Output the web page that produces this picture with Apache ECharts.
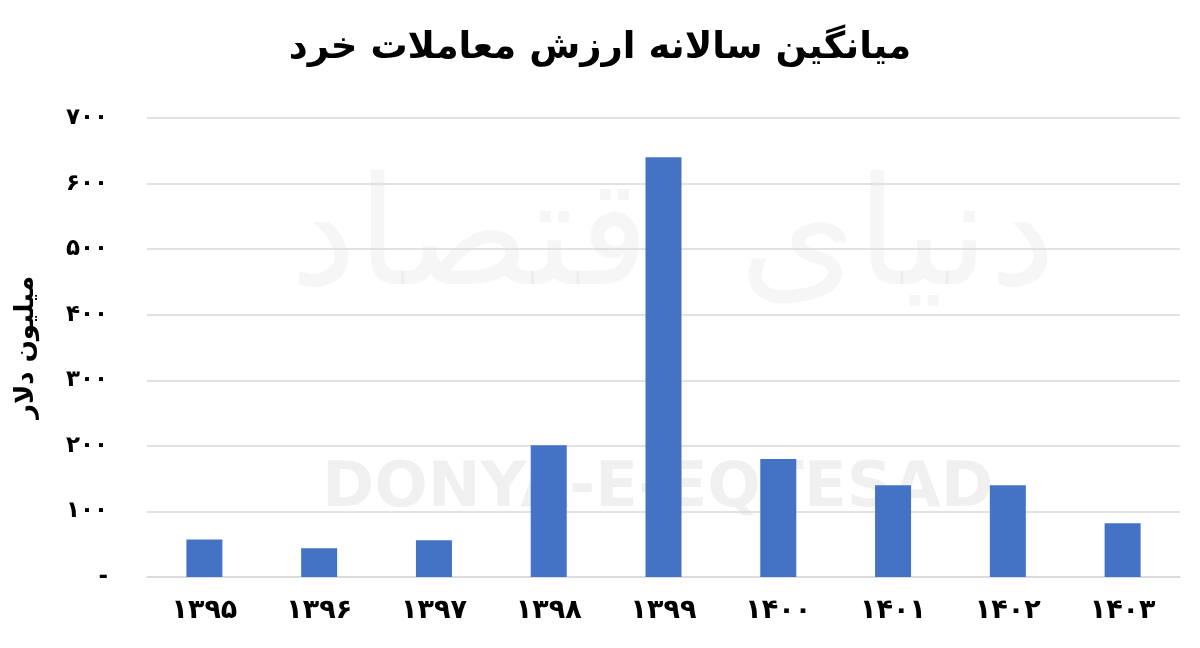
<!DOCTYPE html>
<html>
<head>
<meta charset="utf-8">
<script src="https://cdn.jsdelivr.net/npm/echarts@6/dist/echarts.min.js"></script>
<style>html,body{margin:0;padding:0;background:#fff}#c{width:1200px;height:648px}</style>
</head>
<body>
<div id="c"></div>
<script>
const categories = ['۱۳۹۵','۱۳۹۶','۱۳۹۷','۱۳۹۸','۱۳۹۹','۱۴۰۰','۱۴۰۱','۱۴۰۲','۱۴۰۳'];
const values = [57, 44, 56, 201, 640, 180, 140, 140, 82];
const yTickLabels = {0:'-',100:'۱۰۰',200:'۲۰۰',300:'۳۰۰',400:'۴۰۰',500:'۵۰۰',600:'۶۰۰',700:'۷۰۰'};
const titleText = 'میانگین سالانه ارزش معاملات خرد';
const yName = 'میلیون دلار';

const FONT = 'DejaVu Sans';
const chart = echarts.init(document.getElementById('c'));
chart.setOption({
  backgroundColor: '#ffffff',
  animation: false,
  title: {
    text: titleText, left: 'center', top: 25,
    textStyle: {fontFamily: FONT, fontWeight: 'bold', fontSize: 37, color: '#000'}
  },
  graphic: [
    {type:'text', left: 322, top: 458, silent:true, z:0,
     style:{text:'DONYA-E-EQTESAD', fontFamily: FONT, fontWeight:'bold', fontSize:63, fill:'rgba(0,0,0,0.06)'}},
    {type:'text', left: 290, top: 170, silent:true, z:0,
     style:{text:'دنیای اقتصاد', fontFamily: FONT, fontSize:150, fill:'rgba(0,0,0,0.035)'}}
  ],
  grid: {left: 147, right: 20, top: 118, bottom: 71},
  xAxis: {
    type: 'category', data: categories,
    axisLine: {show: true, lineStyle: {color: '#d9d9d9', width: 1.5}},
    axisTick: {show: false},
    axisLabel: {fontFamily: FONT, fontWeight: 'bold', fontSize: 27, color: '#000', margin: 20}
  },
  yAxis: {
    type: 'value', min: 0, max: 700, interval: 100,
    name: yName, nameLocation: 'middle', nameGap: 108, nameRotate: 90,
    nameTextStyle: {fontFamily: FONT, fontWeight: 'bold', fontSize: 26, color: '#000'},
    axisLine: {show: false}, axisTick: {show: false},
    splitLine: {lineStyle: {color: '#d9d9d9', width: 1.5}},
    axisLabel: {fontFamily: FONT, fontWeight: 'bold', fontSize: 23, color: '#000', margin: 39,
      formatter: v => yTickLabels[v] !== undefined ? yTickLabels[v] : ''}
  },
  series: [{
    type: 'bar', data: values, barWidth: 36,
    itemStyle: {color: '#4472c4'}
  }]
});
</script>
</body>
</html>
